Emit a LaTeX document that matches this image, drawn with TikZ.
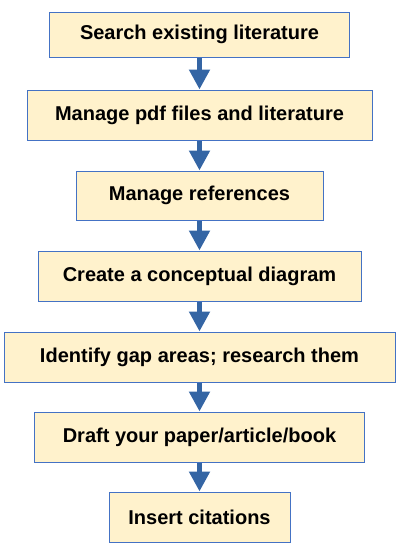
\documentclass[tikz,border=0pt]{standalone}
\usepackage{fontspec}
\setmainfont{Liberation Sans}
\usetikzlibrary{arrows.meta}
\definecolor{boxfill}{HTML}{FFF2CC}
\definecolor{boxline}{HTML}{4472C4}
\definecolor{arrowblue}{HTML}{3465A4}
\tikzset{
	stepstyle/.style={rectangle,draw=boxline,fill=boxfill,line width=1pt,inner sep=0pt,
		font=\fontsize{20}{24}\selectfont\bfseries},
	arrowstyle/.style={draw=arrowblue,line width=5pt,-{Triangle[width=20pt,length=20pt]}}
}

\begin{document}
\begin{tikzpicture}[x=1pt,y=-1pt]
	\useasboundingbox (0,0) rectangle (401,546);
	\node[stepstyle,minimum width=300,minimum height=45] (a) at (199.5,34.8) {Search existing literature};
	\node[stepstyle,minimum width=345,minimum height=50] (b) at (199.5,115) {Manage pdf files and literature};
	\node[stepstyle,minimum width=247,minimum height=49] (c) at (199.5,195.5) {Manage references};
	\node[stepstyle,minimum width=323,minimum height=50] (d) at (199.5,276) {Create a conceptual diagram};
	\node[stepstyle,minimum width=391,minimum height=50] (e) at (199.5,357) {Identify gap areas; research them};
	\node[stepstyle,minimum width=330,minimum height=50] (f) at (199.5,437) {Draft your paper/article/book};
	\node[stepstyle,minimum width=181,minimum height=50] (g) at (199.5,517) {Insert citations};
	\draw[arrowstyle] (a)--(b);
	\draw[arrowstyle] (b)--(c);
	\draw[arrowstyle] (c)--(d);
	\draw[arrowstyle] (d)--(e);
	\draw[arrowstyle] (e)--(f);
	\draw[arrowstyle] (f)--(g);
\end{tikzpicture}
\end{document}
